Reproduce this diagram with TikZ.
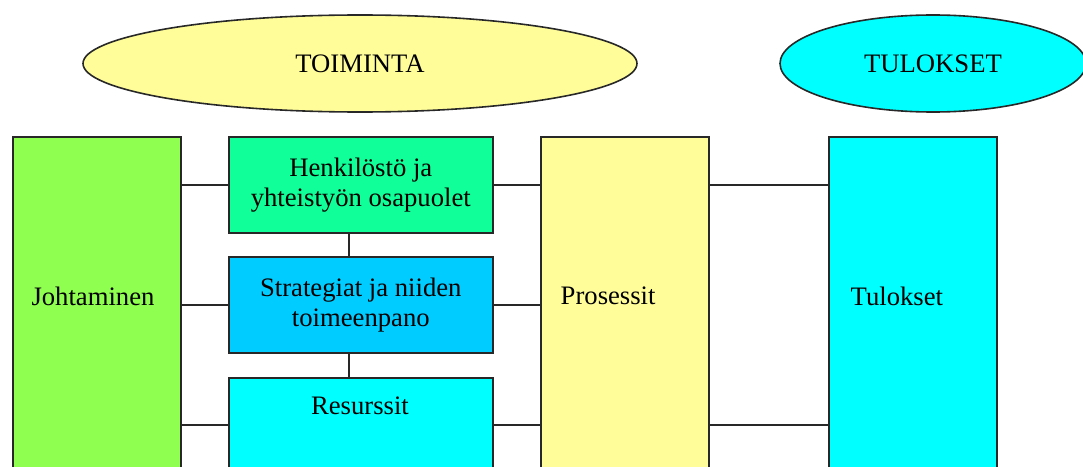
\documentclass[tikz,border=0pt]{standalone}
\usepackage{fontspec}
\setmainfont{Liberation Serif}
\definecolor{johtogreen}{RGB}{143, 255, 80}
\definecolor{henkgreen}{RGB}{16, 255, 152}
\definecolor{stratblue}{RGB}{0, 204, 255}
\definecolor{tulcyan}{RGB}{0, 255, 255}
\definecolor{paleyellow}{RGB}{255, 253, 153}
\definecolor{edgegray}{RGB}{40, 40, 40}
\usepackage{tikz}
\usetikzlibrary{shapes.geometric, positioning, calc}

\begin{document}
\begin{tikzpicture}[x=0.75pt, y=-0.75pt,
  box/.style={draw=edgegray, line width=1.2pt, rectangle, anchor=north west, inner sep=0pt},
  oval/.style={draw=edgegray, line width=1.2pt, ellipse, inner sep=0pt, minimum height=72.75pt},
  link/.style={draw=edgegray, line width=1.2pt},
  txt/.style={font=\fontsize{20}{22.5}\selectfont, align=center}]
  \useasboundingbox (0,0) rectangle (1083,467);

  % Top ellipses
  \node[oval, fill=paleyellow, minimum width=415.5pt, txt] (toiminta) at (360, 63.5) {TOIMINTA};
  \node[oval, fill=tulcyan, minimum width=229.5pt, txt] (tuloksetE) at (933, 63.5) {TULOKSET};

  % Tall columns
  \node[box, fill=johtogreen, minimum width=126pt, minimum height=265.5pt] (johto) at (12, 136) {};
  \node[box, fill=paleyellow, minimum width=126pt, minimum height=265.5pt] (proses) at (540, 136) {};
  \node[box, fill=tulcyan, minimum width=126pt, minimum height=265.5pt] (tulos) at (828, 136) {};

  % Middle stack
  \node[box, fill=henkgreen, minimum width=198pt, minimum height=72pt, txt] (henk) at (228, 136) {Henkilöstö ja\\yhteistyön osapuolet};
  \node[box, fill=stratblue, minimum width=198pt, minimum height=72pt, txt] (strat) at (228, 256) {Strategiat ja niiden\\toimeenpano};
  \node[box, fill=tulcyan, minimum width=198pt, minimum height=70.5pt] (resu) at (228, 377) {};

  % Labels
  \node[txt] (johtoT) at (93, 296) {Johtaminen};
  \node[txt, anchor=west] (prosesT) at (556, 296) {Prosessit};
  \node[txt, anchor=west] (tulosT) at (846, 296) {Tulokset};
  \node[txt] (resuT) at (360, 406) {Resurssit};

  % Connectors
  \foreach \b in {henk, strat, resu} {
    \draw[link] (\b.west) -- (\b.west -| johto.east);
    \draw[link] (\b.east) -- (\b.east -| proses.west);
  }
  \draw[link] (proses.east |- henk.east) -- (tulos.west |- henk.east);
  \draw[link] (proses.east |- resu.east) -- (tulos.west |- resu.east);
  \draw[link] ([xshift=-9pt]henk.south) -- ([xshift=-9pt]strat.north);
  \draw[link] ([xshift=-9pt]strat.south) -- ([xshift=-9pt]resu.north);
\end{tikzpicture}
\end{document}
